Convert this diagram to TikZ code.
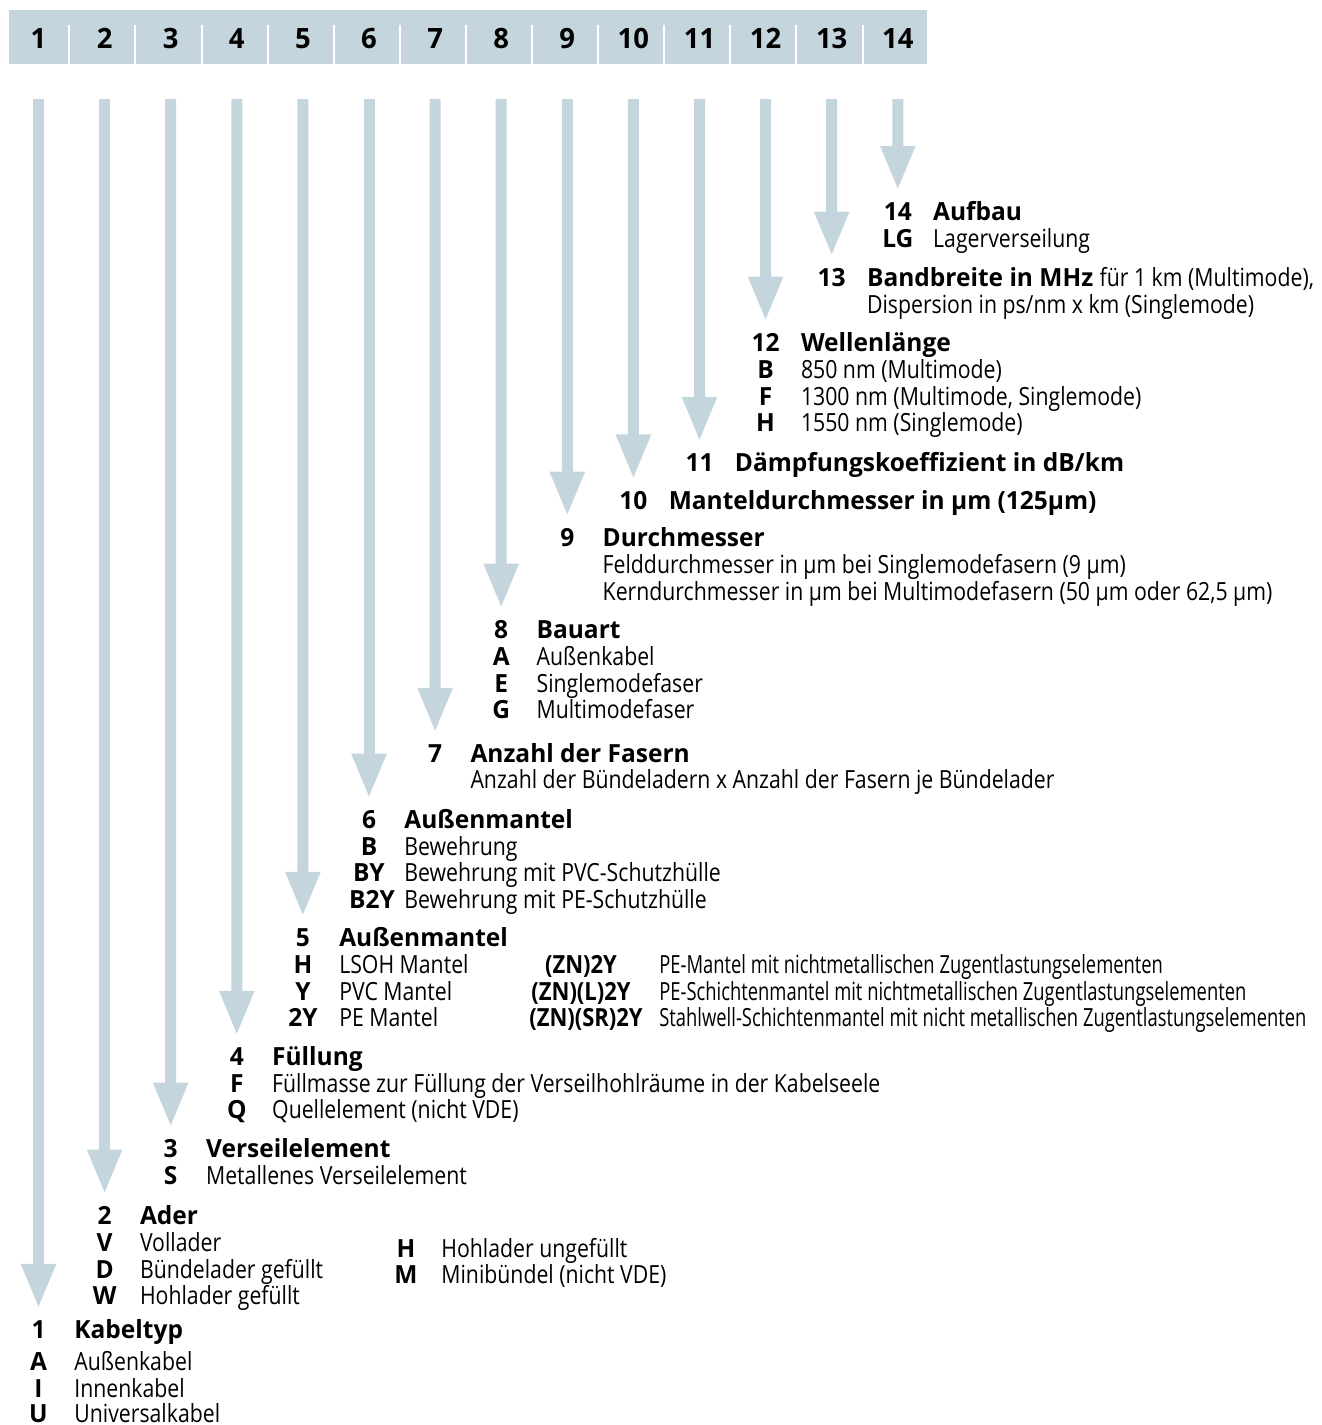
\documentclass[tikz,border=0pt]{standalone}
\usepackage{fontspec}
\usepackage{tikz}
\usetikzlibrary{arrows.meta, positioning}
\definecolor{barblue}{RGB}{197,213,222}
\newfontfamily\headfont[FakeStretch=0.98]{Open Sans}
\newfontfamily\bodyfont[FakeStretch=0.85]{Open Sans}
\newfontfamily\narrowfont[FakeStretch=0.735]{Open Sans}
\newfontfamily\codefont[FakeStretch=0.88]{Open Sans}

\begin{document}
\begin{tikzpicture}[x=0.5pt, y=-0.5pt,
    headnum/.style={font=\headfont\bfseries\fontsize{14}{16}\selectfont, anchor=base, inner sep=0pt},
    num/.style={font=\headfont\bfseries\fontsize{12.5}{15}\selectfont, anchor=base, inner sep=0pt},
    title/.style={font=\headfont\bfseries\fontsize{12.5}{15}\selectfont, anchor=base west, inner sep=0pt},
    code/.style={font=\headfont\bfseries\fontsize{12.5}{15}\selectfont, anchor=base, inner sep=0pt},
    desc/.style={font=\bodyfont\fontsize{12.5}{15}\selectfont, anchor=base west, inner sep=0pt},
    ncode/.style={font=\codefont\bfseries\fontsize{12.5}{15}\selectfont, anchor=base, inner sep=0pt},
    ndesc/.style={font=\narrowfont\fontsize{12.5}{15}\selectfont, anchor=base west, inner sep=0pt},
    bigarrow/.style={draw=barblue, line width=5.5pt, -{Triangle[width=16pt, length=22.5pt]}, shorten >=5.5pt}]
    \useasboundingbox (0,0) rectangle (1322,1425);

    % header bar
    \fill[barblue] (9,10) rectangle (927,64);
    \foreach \i in {1,...,13}
        \draw[white, line width=1pt] ({3.2+66.1*\i},25) -- ({3.2+66.1*\i},64);
    \foreach \i in {1,...,14} {
        \node (h\i) [headnum] at ({38.5+66.1*(\i-1)},48) {\i};
        \coordinate (s\i) at ({38.5+66.1*(\i-1)},99);
    }

    % 14
    \node (n14) [num] at (897.8,220) {14};
    \node (t14) [title] at (932.8,220) {Aufbau};
    \node (c14a) [code] at (897.8,247) {LG};
    \node (d14a) [desc] at (932.8,247) {Lagerverseilung};

    % 13
    \node (n13) [num] at (831.7,286) {13};
    \node (t13) [title] at (866.7,286) {Bandbreite in MHz {\bodyfont\mdseries für 1 km (Multimode),}};
    \node (d13a) [desc] at (866.7,313) {Dispersion in ps/nm x km (Singlemode)};

    % 12
    \node (n12) [num] at (765.6,351) {12};
    \node (t12) [title] at (800.6,351) {Wellenlänge};
    \node (c12a) [code] at (765.6,378) {B};
    \node (d12a) [desc] at (800.6,378) {850 nm (Multimode)};
    \node (c12b) [code] at (765.6,405) {F};
    \node (d12b) [desc] at (800.6,405) {1300 nm (Multimode, Singlemode)};
    \node (c12c) [code] at (765.6,431) {H};
    \node (d12c) [desc] at (800.6,431) {1550 nm (Singlemode)};

    % 11
    \node (n11) [num] at (699.5,471) {11};
    \node (t11) [title] at (734.5,471) {Dämpfungskoeffizient in dB/km};

    % 10
    \node (n10) [num] at (633.4,509) {10};
    \node (t10) [title] at (668.4,509) {Manteldurchmesser in µm (125µm)};

    % 9
    \node (n9) [num] at (567.3,546) {9};
    \node (t9) [title] at (602.3,546) {Durchmesser};
    \node (d9a) [desc] at (602.3,573) {Felddurchmesser in µm bei Singlemodefasern (9 µm)};
    \node (d9b) [desc] at (602.3,600) {Kerndurchmesser in µm bei Multimodefasern (50 µm oder 62,5 µm)};

    % 8
    \node (n8) [num] at (501.2,638) {8};
    \node (t8) [title] at (536.2,638) {Bauart};
    \node (c8a) [code] at (501.2,665) {A};
    \node (d8a) [desc] at (536.2,665) {Außenkabel};
    \node (c8b) [code] at (501.2,692) {E};
    \node (d8b) [desc] at (536.2,692) {Singlemodefaser};
    \node (c8c) [code] at (501.2,718) {G};
    \node (d8c) [desc] at (536.2,718) {Multimodefaser};

    % 7
    \node (n7) [num] at (435.1,762) {7};
    \node (t7) [title] at (470.1,762) {Anzahl der Fasern};
    \node (d7a) [desc] at (470.1,788) {Anzahl der Bündeladern x Anzahl der Fasern je Bündelader};

    % 6
    \node (n6) [num] at (369,828) {6};
    \node (t6) [title] at (404,828) {Außenmantel};
    \node (c6a) [code] at (369,855) {B};
    \node (d6a) [desc] at (404,855) {Bewehrung};
    \node (c6b) [code] at (369,881) {BY};
    \node (d6b) [desc] at (404,881) {Bewehrung mit PVC-Schutzhülle};
    \node (c6c) [code] at (372,908) {B2Y};
    \node (d6c) [desc] at (404,908) {Bewehrung mit PE-Schutzhülle};

    % 5
    \node (n5) [num] at (302.9,946) {5};
    \node (t5) [title] at (338.9,946) {Außenmantel};
    \node (c5a) [code] at (302.9,973) {H};
    \node (d5a) [desc] at (338.9,973) {LSOH Mantel};
    \node (c5b) [code] at (302.9,1000) {Y};
    \node (d5b) [desc] at (338.9,1000) {PVC Mantel};
    \node (c5c) [code] at (302.9,1026) {2Y};
    \node (d5c) [desc] at (338.9,1026) {PE Mantel};
    \node (c5d) [ncode] at (581,973) {(ZN)2Y};
    \node (d5d) [ndesc] at (659,973) {PE-Mantel mit nichtmetallischen Zugentlastungselementen};
    \node (c5e) [ncode] at (581,1000) {(ZN)(L)2Y};
    \node (d5e) [ndesc] at (659,1000) {PE-Schichtenmantel mit nichtmetallischen Zugentlastungselementen};
    \node (c5f) [ncode] at (586,1026) {(ZN)(SR)2Y};
    \node (d5f) [ndesc] at (659,1026) {Stahlwell-Schichtenmantel mit nicht metallischen Zugentlastungselementen};

    % 4
    \node (n4) [num] at (236.8,1065) {4};
    \node (t4) [title] at (271.8,1065) {Füllung};
    \node (c4a) [code] at (236.8,1092) {F};
    \node (d4a) [desc] at (271.8,1092) {Füllmasse zur Füllung der Verseilhohlräume in der Kabelseele};
    \node (c4b) [code] at (236.8,1118) {Q};
    \node (d4b) [desc] at (271.8,1118) {Quellelement (nicht VDE)};

    % 3
    \node (n3) [num] at (170.7,1157) {3};
    \node (t3) [title] at (205.7,1157) {Verseilelement};
    \node (c3a) [code] at (170.7,1184) {S};
    \node (d3a) [desc] at (205.7,1184) {Metallenes Verseilelement};

    % 2
    \node (n2) [num] at (104.6,1224) {2};
    \node (t2) [title] at (139.6,1224) {Ader};
    \node (c2a) [code] at (104.6,1251) {V};
    \node (d2a) [desc] at (139.6,1251) {Vollader};
    \node (c2b) [code] at (104.6,1278) {D};
    \node (d2b) [desc] at (139.6,1278) {Bündelader gefüllt};
    \node (c2c) [code] at (104.6,1304) {W};
    \node (d2c) [desc] at (139.6,1304) {Hohlader gefüllt};
    \node (c2d) [code] at (406,1257) {H};
    \node (d2d) [desc] at (441,1257) {Hohlader ungefüllt};
    \node (c2e) [code] at (406,1283) {M};
    \node (d2e) [desc] at (441,1283) {Minibündel (nicht VDE)};

    % 1
    \node (n1) [num] at (38.5,1338) {1};
    \node (t1) [title] at (74,1338) {Kabeltyp};
    \node (c1a) [code] at (38.5,1370) {A};
    \node (d1a) [desc] at (74,1370) {Außenkabel};
    \node (c1b) [code] at (38.5,1397) {I};
    \node (d1b) [desc] at (74,1397) {Innenkabel};
    \node (c1c) [code] at (38.5,1422) {U};
    \node (d1c) [desc] at (74,1422) {Universalkabel};

    \foreach \i in {1,...,14}
        \draw[bigarrow] (s\i) -- (n\i);
\end{tikzpicture}
\end{document}
